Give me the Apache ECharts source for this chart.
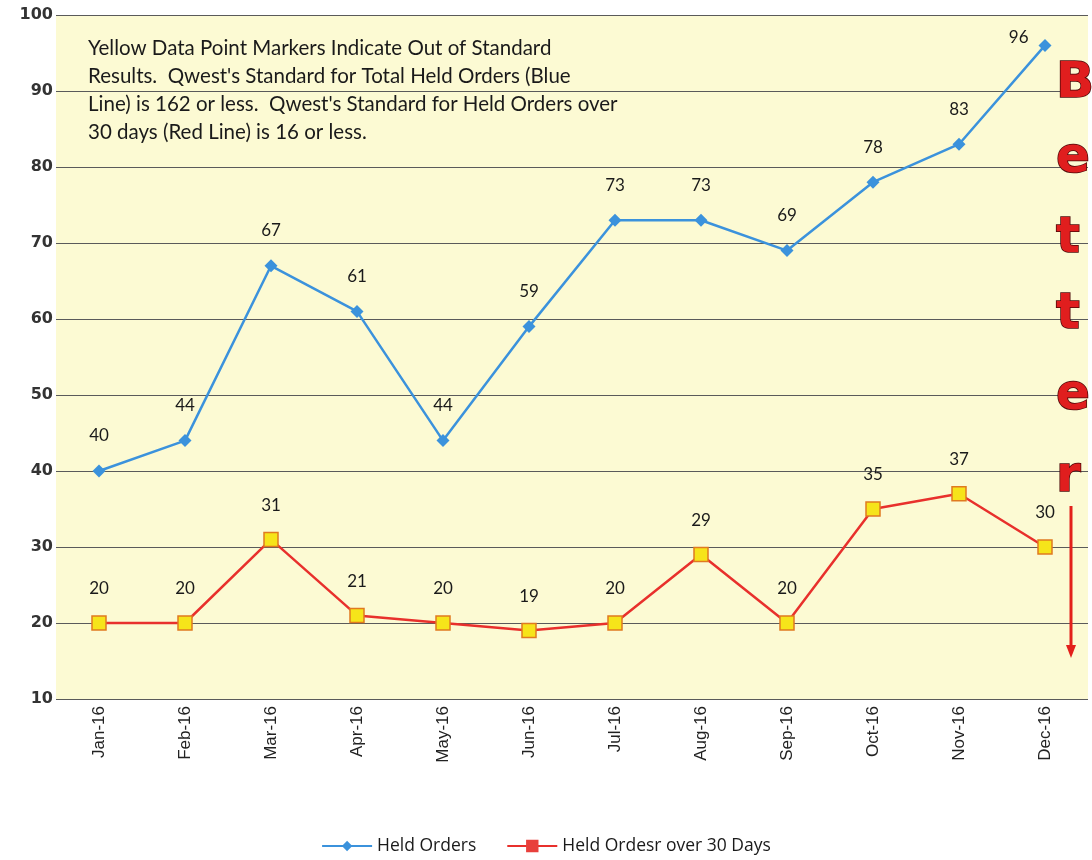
<!DOCTYPE html>
<html><head><meta charset="utf-8">
<script src="https://cdn.jsdelivr.net/npm/echarts@6/dist/echarts.min.js"></script>
<style>html,body{margin:0;padding:0;background:#fff}#c{width:1092px;height:860px}</style>
</head><body><div id="c"></div>
<script>
const months = ['Jan-16','Feb-16','Mar-16','Apr-16','May-16','Jun-16','Jul-16','Aug-16','Sep-16','Oct-16','Nov-16','Dec-16'];
const heldOrders = [40,44,67,61,44,59,73,73,69,78,83,96];
const heldOver30 = [20,20,31,21,20,19,20,29,20,35,37,30];
const yTicks = {min:10, max:100, interval:10};
const noteLines = [
  'Yellow Data Point Markers Indicate Out of Standard',
  "Results.  Qwest's Standard for Total Held Orders (Blue",
  "Line) is 162 or less.  Qwest's Standard for Held Orders over",
  '30 days (Red Line) is 16 or less.'
];
const betterLetters = ['B','e','t','t','e','r'];

const chart = echarts.init(document.getElementById('c'));
const letterTop = [59,134,214,290,371,453];
const graphics = [];
betterLetters.forEach((l,i)=>{
  graphics.push({type:'text', z:10,
    style:{x:1056, y:letterTop[i], text:l,
      font:'bold 50px "DejaVu Sans"', fill:'#e01e1e', stroke:'#4a0808', lineWidth:1.5}});
});
graphics.push({type:'line', z:10, shape:{x1:1071,y1:506,x2:1071,y2:648}, style:{stroke:'#e3201b', lineWidth:3}});
graphics.push({type:'polygon', z:10, shape:{points:[[1066,645],[1076,645],[1071,658]]}, style:{fill:'#e3201b'}});
graphics.push({type:'text', left:88, top:34, z:10,
  style:{text:noteLines.join('\n'), font:'20.5px Lato', fill:'#1a1a1a', lineHeight:28}});

const blueData = heldOrders.map((v,i)=> i===heldOrders.length-1
  ? {value:v, label:{position:'left', distance:10, offset:[0,-8]}} : v);

chart.setOption({
  animation:false,
  backgroundColor:'#fff',
  grid:{left:56, right:4, top:15, bottom:161, show:true, backgroundColor:'#fcfad3', borderWidth:0},
  legend:{bottom:0, left:'center', itemGap:30, itemWidth:50, itemHeight:13,
    textStyle:{fontSize:17.5, color:'#1a1a1a', fontFamily:'Open Sans', fontWeight:500},
    data:[{name:'Held Orders'},{name:'Held Ordesr over 30 Days', itemStyle:{color:'#e8403c', borderColor:'#e8403c'}}]},
  xAxis:{type:'category', data:months, boundaryGap:true,
    axisLine:{show:false}, axisTick:{show:false},
    axisLabel:{rotate:90, fontSize:17, color:'#222', fontFamily:'Liberation Sans', margin:7}},
  yAxis:{type:'value', min:yTicks.min, max:yTicks.max, interval:yTicks.interval,
    axisLine:{show:false}, axisTick:{show:false},
    axisLabel:{fontSize:16, fontWeight:'bold', color:'#333', fontFamily:'DejaVu Sans', margin:3},
    splitLine:{lineStyle:{color:'#5a5a5a', width:1}}},
  series:[
    {name:'Held Orders', type:'line', data:blueData, symbol:'diamond', symbolSize:13,
      lineStyle:{color:'#3b92dc', width:2.5}, itemStyle:{color:'#3b92dc'},
      label:{show:true, position:'top', distance:20, fontSize:17, color:'#1a1a1a', fontFamily:'Lato'}},
    {name:'Held Ordesr over 30 Days', type:'line', data:heldOver30, symbol:'rect', symbolSize:14,
      lineStyle:{color:'#e8302c', width:2.5}, itemStyle:{color:'#f6e41a', borderColor:'#e07a20', borderWidth:1.5},
      label:{show:true, position:'top', distance:18, fontSize:17, color:'#1a1a1a', fontFamily:'Lato'}}
  ],
  graphic:graphics
});
</script></body></html>
